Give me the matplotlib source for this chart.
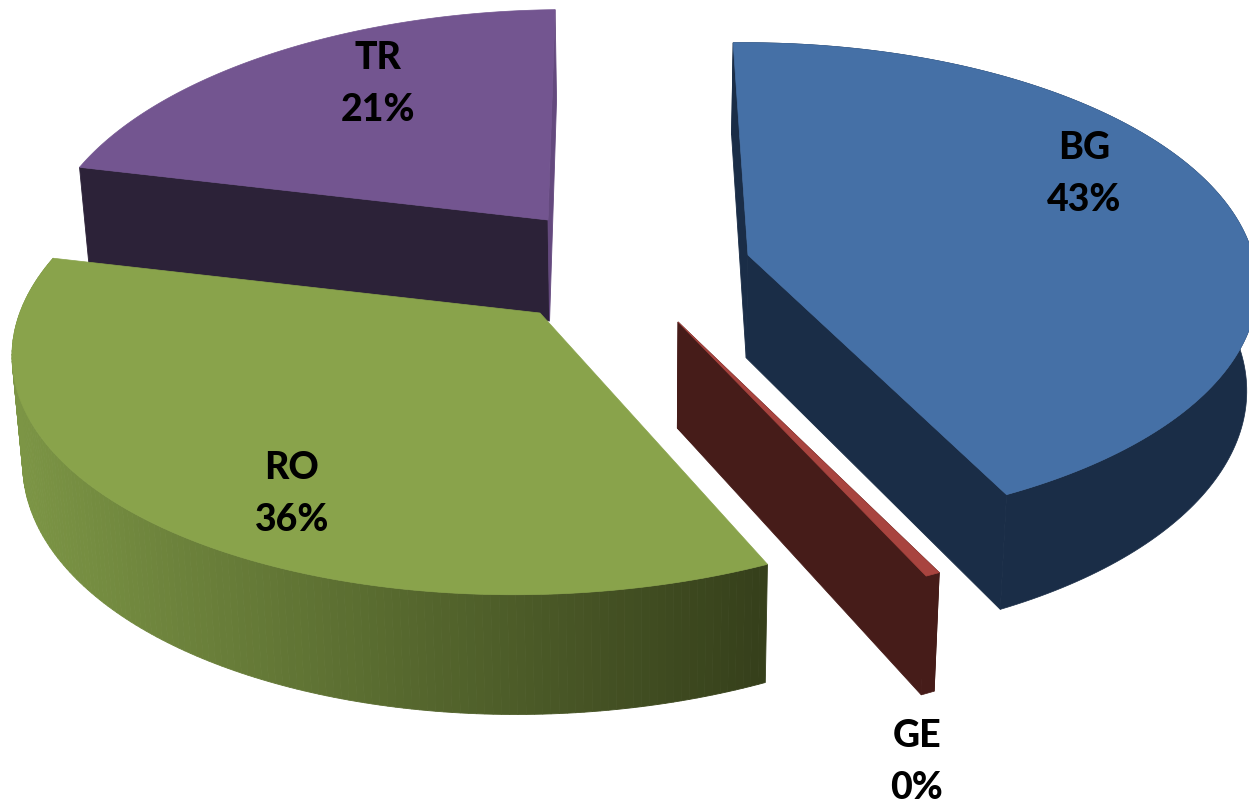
import numpy as np
import matplotlib
matplotlib.use('Agg')
import matplotlib.pyplot as plt
from matplotlib.patches import Polygon
from matplotlib.colors import LinearSegmentedColormap

labels = ['BG', 'GE', 'RO', 'TR']
shares = [43.0, 0.4, 35.7, 20.9]
shown = ['43%', '0%', '36%', '21%']

# geometry of the fake 3d view, in pixels
START = -1.5
DIST = 8.0
VX = 720
RX = 510
RY = 241

apex = {'BG': (748, 255), 'GE': (678, 322), 'RO': (540, 313), 'TR': (548, 220)}
scale = {'BG': 0.99, 'GE': 1.03, 'RO': 1.02, 'TR': 0.98}
top_col = {'BG': '#4570a6', 'GE': '#a8443f', 'RO': '#89a34b', 'TR': '#735590'}
wall_col = {'BG': '#1a2d47', 'GE': '#461c19'}
start_col = {'BG': '#1a2d47', 'GE': '#461c19', 'TR': '#2c2238'}
end_col = {'BG': '#1a2d47', 'GE': '#461c19', 'TR': '#64497e'}
label_pos = {'BG': (1084, 174), 'GE': (917, 762), 'RO': (292, 494), 'TR': (378, 84)}
ro_wall = LinearSegmentedColormap.from_list('ro', ['#7c9545', '#586a2f', '#36401b'])


def project(name, theta):
    ax_, ay_ = apex[name]
    t = np.radians(theta)
    r = scale[name]
    u, v = r * np.sin(t), r * np.cos(t)
    f = DIST / (DIST + v)
    return VX + (ax_ - VX + RX * u) * f, ay_ - RY * v * f


def drop(x, y):
    # bottom of the slab, a bit narrower and thicker towards the viewer
    return x - (x - 640) * 0.017, y + 90 + 0.05 * y


def quad(ax, p1, p2, color, z):
    b1, b2 = drop(*p1), drop(*p2)
    ax.add_patch(Polygon([p1, p2, b2, b1], closed=True, fc=color, ec=color, lw=0.6, zorder=z))


def main():
    fig = plt.figure(figsize=(12.49, 8.05), dpi=100)
    ax = fig.add_axes([0, 0, 1, 1])
    ax.set_xlim(0, 1249)
    ax.set_ylim(805, 0)
    ax.axis('off')

    angles = START + np.cumsum([0] + shares) * 3.6
    layer = {'TR': 10, 'RO': 20, 'BG': 30, 'GE': 40}
    for i, name in enumerate(labels):
        a0, a1 = angles[i], angles[i + 1]
        z = layer[name]
        thetas = np.linspace(a0, a1, 160)
        pts = [project(name, th) for th in thetas]
        centre = apex[name]

        if name in start_col:
            quad(ax, centre, pts[0], start_col[name], z)
        if name in end_col:
            quad(ax, centre, pts[-1], end_col[name], z + 1)
        if name == 'RO':
            for p, q in zip(pts[:-1], pts[1:]):
                quad(ax, p, q, ro_wall(np.clip((p[0] - 15) / 750, 0, 1)), z + 2)
        elif name in wall_col:
            # plain walls go in one piece, no seams
            lower = [drop(*p) for p in pts]
            ax.add_patch(Polygon(pts + lower[::-1], closed=True, fc=wall_col[name],
                                 ec=wall_col[name], lw=0.5, zorder=z + 2))
        ax.add_patch(Polygon([centre] + pts, closed=True, fc=top_col[name], ec=top_col[name], lw=0.5, zorder=z + 3))

        lx, ly = label_pos[name]
        ax.text(lx, ly, name + '\n' + shown[i], ha='center', va='center', family='Lato',
                fontweight='black', fontsize=27, color='black', linespacing=1.65, zorder=60)

    fig.savefig('out.png', dpi=100)


if __name__ == '__main__':
    main()
